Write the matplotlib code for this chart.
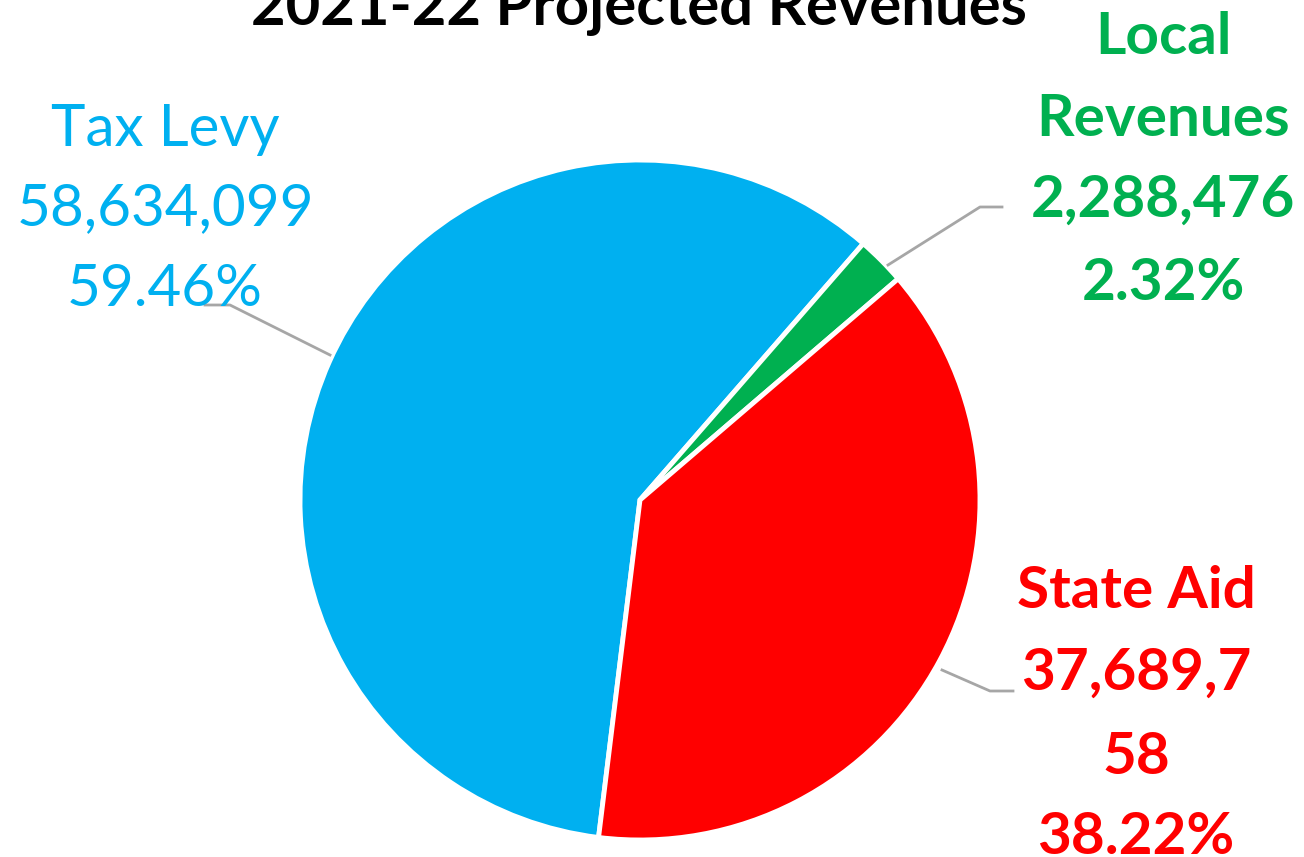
import matplotlib
matplotlib.use("Agg")
import matplotlib.pyplot as plt
from matplotlib.lines import Line2D

W, H = 1304, 857

# data
categories = ["Tax Levy", "Local Revenues", "State Aid"]
values = [58634099, 2288476, 37689758]
percent_labels = ["59.46%", "2.32%", "38.22%"]
colors = ["#00B0F0", "#00B050", "#FF0000"]

plt.rcParams['font.family'] = ['Lato', 'DejaVu Sans']


def px(x, y):
    # pixel position (from top-left) -> figure fraction
    return x / W, 1 - y / H


fig = plt.figure(figsize=(W / 100, H / 100), dpi=100)

cx, cy, r = 640, 500, 340
ax = fig.add_axes([(cx - r) / W, (H - cy - r) / H, 2 * r / W, 2 * r / H])
ax.pie(values, colors=colors, startangle=-97, counterclock=False,
       wedgeprops=dict(edgecolor="white", linewidth=3.5))
ax.set_xlim(-1, 1)
ax.set_ylim(-1, 1)
ax.axis('off')

# title (cut off at the top like the original)
fig.text(*px(639, 25), "2021-22 Projected Revenues", ha="center", va="baseline",
         fontsize=43, fontweight="bold", color="black")

# data labels, one text per line
fs = 42
label_lines = [
    (["Tax Levy", "58,634,099", percent_labels[0]], 165, [125, 204, 285], "normal"),
    (["Local", "Revenues", "2,288,476", percent_labels[1]], 1163, [32, 114, 195, 278], "bold"),
    (["State Aid", "37,689,7", "58", percent_labels[2]], 1136, [587, 668, 752, 832], "bold"),
]
for (lines, x, ys, weight), col in zip(label_lines, colors):
    for txt, y in zip(lines, ys):
        fig.text(*px(x, y), txt, ha="center", va="center_baseline",
                 fontsize=fs, fontweight=weight, color=col)

# leader lines
leaders = [
    [(205, 305), (230, 305), (330, 355)],
    [(888, 265), (980, 207), (1002, 207)],
    [(942, 670), (990, 691), (1013, 691)],
]
for pts in leaders:
    xs = [px(*p)[0] for p in pts]
    ys = [px(*p)[1] for p in pts]
    fig.add_artist(Line2D(xs, ys, color="#A6A6A6", linewidth=2,
                          transform=fig.transFigure))

plt.savefig("out.png", dpi=100, facecolor="white")
